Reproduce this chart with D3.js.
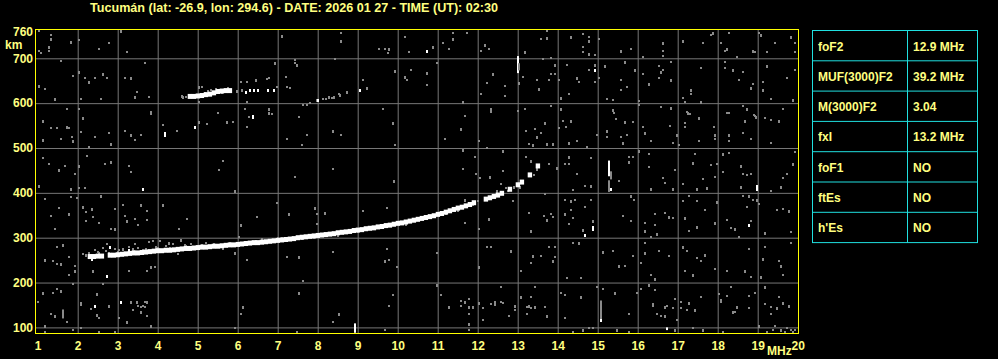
<!DOCTYPE html>
<html>
<head>
<meta charset="utf-8">
<script src="https://cdn.jsdelivr.net/npm/d3@7/dist/d3.min.js"></script>
<style>
body { margin: 0; background: #000; }
text { font-family: "Liberation Sans", Arial, sans-serif; font-weight: bold; }
</style>
</head>
<body>
<div id="chart"></div>
<script>
const title = "Tucumán (lat: -26.9, lon: 294.6) - DATE: 2026 01 27 - TIME (UT): 02:30";
const freqTicks = [1,2,3,4,5,6,7,8,9,10,11,12,13,14,15,16,17,18,19,20];
const kmTicks = [100,200,300,400,500,600,700,760];
const gridKm = [100,200,300,400,500,600,700];
const paramNames = ["foF2","MUF(3000)F2","M(3000)F2","fxI","foF1","ftEs","h'Es"];
const paramValues = ["12.9 MHz","39.2 MHz","3.04","13.2 MHz","NO","NO","NO"];

// F2 trace, [MHz, km]
const mainTrace = [[2.3,258],[2.4,258],[2.5,259],[2.6,259],[2.8,261],[2.9,261],[3.0,262],[3.1,263],[3.2,264],[3.3,265],[3.4,266],[3.5,266],[3.6,267],[3.7,268],[3.8,269],[3.9,270],[4.0,271],[4.1,271],[4.2,272],[4.3,272],[4.4,273],[4.5,274],[4.6,275],[4.7,276],[4.8,276],[4.9,277],[5.0,278],[5.1,279],[5.2,279],[5.3,280],[5.4,281],[5.5,281],[5.6,282],[5.7,283],[5.8,284],[5.9,284],[6.0,285],[6.1,286],[6.2,287],[6.3,288],[6.4,289],[6.5,289],[6.6,290],[6.7,291],[6.8,292],[6.9,293],[7.0,294],[7.1,295],[7.2,296],[7.3,297],[7.4,298],[7.5,300],[7.6,301],[7.7,302],[7.8,303],[7.9,304],[8.0,305],[8.1,306],[8.2,307],[8.3,308],[8.4,309],[8.5,311],[8.6,312],[8.7,313],[8.8,314],[8.9,316],[9.0,317],[9.1,318],[9.2,320],[9.3,321],[9.4,322],[9.5,324],[9.6,325],[9.7,327],[9.8,328],[9.9,330],[10.0,332],[10.1,333],[10.2,335],[10.3,337],[10.4,339],[10.5,341],[10.6,343],[10.7,345],[10.8,347],[10.9,349],[11.0,352],[11.1,354],[11.2,357],[11.3,360],[11.4,363],[11.5,366],[11.6,368],[11.7,371],[11.8,374],[11.9,378],[12.2,386],[12.3,389],[12.4,392],[12.5,395],[12.6,399],[12.8,408],[13.0,418],[13.1,424],[13.3,440],[13.5,460]];

// second echo, [MHz, km]
const secondTrace = [[4.8,615],[4.9,615],[5.0,616],[5.1,617],[5.2,619],[5.3,620],[5.4,623],[5.5,626],[5.6,627],[5.7,628],[5.8,628]];

const whiteDots = [[6.2,624],[6.3,630],[6.4,630],[6.5,630],[6.75,630],[6.9,630],[8.0,608],[9.05,630],[6.38,572],[4.18,533],[4.18,528],[4.93,547],[6.38,570],[3.63,408],[2.73,214],[2.43,148],[3.08,157],[2.81,280],[3.27,273],[10.73,717],[14.93,674],[15.33,408],[18.98,416],[18.98,408],[14.88,319],[14.88,323],[14.68,306],[18.78,328],[2.43,148],[3.08,156],[15.08,116],[2.35,252]];

const grayDots = [[1.13,561],[1.33,544],[1.48,544],[1.73,547],[1.78,544],[1.86,525],[1.88,516],[1.58,520],[2.08,535],[2.13,567],[2.44,525],[2.78,533],[2.84,509],[2.29,503],[3.18,538],[3.33,530],[3.43,518],[3.59,530],[3.83,579],[4.13,552],[4.49,538],[5.03,559],[5.23,553],[5.5,579],[5.73,557],[5.88,559],[6.23,547],[6.79,579],[6.86,575],[7.23,521],[1.13,518],
[1.13,477],[1.28,464],[1.53,451],[1.68,459],[1.94,442],[2.03,459],[2.23,483],[2.68,464],[2.83,468],[3.28,459],[3.33,446],[1.83,408],[2.03,411],[2.18,411],[1.03,416],[5.53,450],[5.63,472],[5.93,404],
[1.18,387],[1.53,367],[1.78,352],[1.83,390],[1.98,389],[2.13,368],[2.21,357],[2.21,337],[2.36,364],[2.39,346],[2.53,333],[2.59,394],[2.93,364],[2.83,319],[2.93,319],[3.13,372],[3.19,349],[3.23,337],[3.43,342],[3.51,328],[3.59,372],[3.73,359],[3.73,339],[4.13,372],[4.53,319],[4.73,342],[6.08,328],[6.48,346],[6.98,377],[7.28,353],[1.33,349],[1.43,319],
[1.18,251],[1.38,248],[1.48,241],[1.58,242],[1.78,257],[1.94,237],[1.94,226],[1.79,217],[2.13,263],[2.38,226],[3.28,225],[3.73,226],[3.84,235],[3.94,235],[6.23,251],[5.94,266],[7.23,257],[1.48,279],[1.63,283],
[2.29,266],[2.44,272],[2.54,265],[2.63,278],[2.73,287],[2.79,265],[2.93,274],[3.03,272],[3.14,274],[3.21,265],[3.29,279],[3.39,275],[3.43,285],[3.51,277],[3.63,272],[3.78,291],[3.88,293],[3.96,279],[4.06,293],[4.21,281],[4.29,288],[4.39,285],[4.5,263],[4.58,294],[4.69,283],[4.83,287],[4.88,279],[5.21,288],[5.46,279],[5.63,278],[5.88,287],[6.04,302],[6.46,293],[6.79,294],[7.11,300],
[2.2,262],[2.5,268],[2.7,270],[3.0,268],[3.4,270],[3.7,274],[4.0,277],[4.3,278],[4.7,282],[5.1,284],[5.4,286],[5.8,289],[6.2,291],[6.6,296],[7.0,299],
[1.13,177],[1.38,177],[1.48,185],[1.59,181],[1.88,197],[2.08,154],[2.48,174],[2.63,197],[2.78,148],[3.33,157],[3.51,148],[3.68,146],[3.73,157],
[7.53,570],[7.73,530],[8.38,538],[8.58,530],[7.6,507],[9.88,556],[9.93,507],[11.18,521],[11.58,543],[12.03,516],[12.23,501],[12.33,583],[13.0,583],[13.28,509],[13.38,507],[13.2,538],[13.43,543],[13.48,525],[13.57,534],[13.67,553],[11.63,496],[11.63,453],[11.93,481],[12.63,494],[12.63,448],[13.2,481],[13.33,472],[11.95,441],[12.05,432],[12.3,436],[7.43,436],[8.38,454],[9.9,427],[13.33,438],[13.48,457],[7.93,367],[7.98,352],[7.98,331],[8.18,355],[9.13,359],[9.73,367],[11.68,385],[11.68,333],[12.03,319],[12.28,342],[12.88,382],[13.28,355],[13.33,315],[13.65,349],[8.38,268],[7.53,257],[9.73,275],[9.78,250],[9.68,249],[9.98,235],[10.98,266],[12.03,234],[12.23,279],[12.33,279],[12.83,271],[13.08,226],[13.33,244],[13.38,260],[13.58,260],[7.63,204],[7.53,177],[9.88,173],[9.78,148],[10.98,195],[11.08,173],[11.58,159],[11.68,157],[11.78,164],[11.88,143],[12.03,154],[12.13,143],[12.33,153],[12.43,156],[12.58,191],[12.63,154],[13.08,167],[13.23,146],[13.33,168],[13.43,146],[13.43,191],
[11.88,374],[12.48,405],[12.58,420],[12.75,405],[13.05,413],[13.32,441],[13.4,439],[13.48,453],[7.6,296],[7.9,299],[8.5,306],[9.0,313],[9.6,321],[10.2,331],[10.7,342],[11.2,352],[11.5,361],[12.0,382],[12.7,410],[12.9,414],
[13.68,555],[14.13,561],[14.33,561],[14.03,544],[14.2,547],[14.28,512],[14.48,516],[14.73,503],[13.88,509],[15.4,577],[15.45,565],[15.67,558],[15.88,557],[15.73,530],[15.23,538],[15.23,524],[15.58,525],[15.63,512],[16.13,546],[16.33,516],[16.18,534],[16.8,550],[16.88,512],[16.98,530],[17.03,507],[17.18,556],[17.25,577],[17.3,576],[17.18,547],[17.53,567],[17.53,516],[17.9,547],[17.93,530],[17.93,521],[18.28,577],[18.28,530],[18.28,515],[18.63,534],[18.68,561],[18.83,521],[18.9,573],[18.95,570],[19.18,567],[19.33,562],[19.53,561],[19.33,512],[19.93,491],[13.72,510],[14.98,530],
[13.78,464],[13.97,456],[14.18,464],[14.28,464],[14.28,479],[14.48,442],[14.68,416],[14.83,416],[14.38,407],[14.83,478],[15.78,469],[15.78,481],[15.88,479],[16.03,493],[16.28,487],[16.28,457],[16.33,408],[16.63,432],[16.68,422],[16.88,408],[16.93,450],[17.13,420],[17.38,467],[17.43,487],[17.63,430],[17.73,411],[17.93,435],[17.98,464],[18.13,487],[18.13,447],[18.28,488],[18.58,459],[18.63,442],[18.73,439],[18.58,413],[18.83,442],[18.98,414],[19.58,413],[19.63,432],[19.73,442],[19.88,464],[15.53,427],[17.83,462],[17.48,408],
[13.68,398],[13.83,353],[13.73,339],[13.88,347],[14.18,385],[14.33,382],[14.43,385],[14.33,362],[14.18,352],[14.28,330],[14.38,345],[14.63,318],[14.83,385],[14.68,368],[14.88,337],[15.63,349],[15.83,337],[15.83,393],[15.9,385],[16.18,333],[16.18,315],[16.43,353],[16.43,328],[16.48,309],[16.33,302],[16.68,355],[16.78,346],[16.88,345],[17.13,382],[17.18,345],[17.28,393],[17.48,382],[17.48,324],[17.28,316],[17.68,362],[17.93,333],[18.23,339],[18.33,321],[18.43,319],[18.53,302],[18.63,393],[18.78,393],[18.73,368],[18.88,385],[18.98,383],[19.03,376],[18.83,337],[19.18,311],[19.48,362],[19.63,364],[19.78,359],[19.83,312],[19.33,404],[17.98,380],
[13.78,279],[13.93,279],[13.88,247],[13.93,257],[14.38,289],[14.53,289],[14.23,211],[14.58,211],[15.13,269],[15.38,271],[15.68,237],[15.53,237],[15.88,259],[16.08,244],[16.18,265],[16.18,288],[16.33,217],[16.43,208],[16.53,271],[16.78,260],[17.13,279],[17.23,271],[17.18,226],[17.38,217],[17.48,254],[17.58,248],[17.68,262],[17.93,231],[18.23,226],[18.68,226],[18.78,275],[18.83,213],[19.13,253],[19.18,279],[19.53,248],[19.58,237],[19.63,217],[19.83,288],[19.07,213],
[14.08,177],[14.18,173],[14.58,168],[14.98,191],[15.13,186],[15.43,177],[15.97,177],[16.08,186],[16.28,195],[16.43,183],[16.38,148],[16.68,146],[16.93,164],[17.08,157],[17.28,155],[17.58,168],[18.02,174],[18.08,161],[18.23,171],[18.33,191],[18.48,145],[18.78,170],[18.93,177],[19.18,191],[19.33,145],[19.53,168],[19.63,154],
[1.03,761],[1.33,753],[1.33,742],[1.03,717],[1.08,711],[1.28,726],[1.28,717],[1.58,693],[1.83,737],[2.03,741],[2.08,610],[2.03,670],[1.88,661],[2.19,655],[2.28,647],[2.43,656],[2.53,720],[2.63,664],[2.73,655],[2.78,733],[3.08,761],[3.23,713],[3.18,656],[3.33,656],[3.68,689],[3.48,625],[3.43,613],[3.78,614],[3.83,581],[1.43,610],[1.73,588],[2.03,588],[1.03,639],[1.18,631],[2.58,610],[5.03,637],[5.11,637],[5.03,603],[4.63,614],[6.09,647],[6.23,648],[6.46,652],[6.73,653],[6.78,655],[6.93,689],[7.21,659],[7.31,634],[7.11,750],[7.43,696],[7.43,689],[7.48,685],[8.43,698],[8.58,757],[8.58,739],[8.73,625],[9.13,652],[9.23,633],[9.53,720],[9.68,720],[9.78,720],[9.76,711],[9.63,588],[9.93,671],[7.63,596],[8.13,610],[8.28,613],[8.53,621],[6.18,588],[6.78,588],[6.28,570],[6.23,603],
[4.6,615],[5.19,622],[5.34,630],[5.48,626],[5.64,630],[5.81,624],[5.98,628],[6.98,636],[7.23,636],[9.06,630],[4.7,613],[5.25,628],[5.45,632],[5.6,622],[5.75,633],[6.1,630],
[7.73,596],[7.81,601],[7.98,606],[8.14,610],[8.35,612],[8.56,618],[8.73,622],[8.2,610],[8.4,614],
[10.18,748],[10.28,713],[10.88,726],[11.13,733],[11.38,757],[11.38,744],[11.73,757],[11.28,721],[12.18,730],[12.08,717],[12.28,721],[13.18,713],[13.58,744],[13.73,761],[13.73,745],[13.63,699],[13.83,700],[14.33,748],[14.63,755],[14.78,748],[14.78,739],[14.63,726],[14.63,713],[14.78,710],[14.93,707],[15.03,744],[15.58,717],[15.83,721],[16.13,704],[16.63,735],[16.63,717],[16.63,705],[17.13,739],[17.63,735],[17.83,753],[17.88,757],[18.08,735],[18.18,717],[18.23,721],[18.28,757],[18.48,704],[18.88,717],[18.93,713],[19.03,757],[19.08,753],[19.23,713],[19.43,735],[19.83,748],[19.93,713],[19.93,735],
[10.18,659],[10.23,652],[10.34,674],[10.73,667],[10.73,640],[10.98,689],[11.63,603],[12.08,621],[12.23,645],[12.38,665],[12.68,639],[12.68,616],[13.03,645],[13.13,659],[13.48,652],[13.53,631],[13.78,652],[13.83,665],[13.93,686],[13.93,665],[14.03,652],[14.08,612],[14.23,684],[14.28,621],[14.48,656],[14.53,647],[14.78,673],[14.93,686],[14.93,647],[15.03,655],[15.18,683],[15.23,610],[15.38,608],[15.38,585],[15.58,652],[15.58,630],[15.68,692],[15.73,637],[15.83,720],[15.93,674],[16.03,605],[16.13,665],[16.28,643],[16.53,683],[16.53,656],[16.58,670],[16.63,674],[16.83,692],[16.83,652],[17.13,612],[17.18,603],[17.33,630],[17.33,621],[17.58,679],[17.58,603],[18.18,692],[18.18,679],[18.38,674],[18.53,652],[18.63,670],[18.83,634],[18.88,643],[19.13,647],[19.23,682],[19.73,656],[19.93,674],[19.13,630],[18.63,594],[19.33,610],[19.88,608],[19.63,587],[18.93,572],[18.73,588],[18.23,578],[17.23,581],[16.83,590],[16.58,592],[16.03,595],[14.08,587],[13.83,594],[13.18,587],[12.33,587],[11.68,572],
[1.0,157],[1.19,103],[1.19,90],[1.33,130],[1.43,125],[1.73,112],[1.88,94],[2.08,153],[2.08,98],[2.33,140],[2.48,127],[2.53,121],[2.53,90],[2.78,148],[2.93,90],[3.03,122],[3.23,112],[3.33,156],[3.38,139],[3.48,156],[3.58,145],[3.63,148],[3.58,134],[3.68,156],[3.73,125],[3.83,103],[5.93,99],[6.08,130],[6.13,145],[7.48,90],[8.38,112],[8.53,130],[9.68,94],[9.78,148],
[11.28,145],[11.58,148],[11.68,156],[11.78,145],[11.88,145],[11.78,130],[11.78,107],[11.78,94],[12.13,116],[12.43,152],[12.58,156],[12.78,125],[12.93,148],[12.93,139],[13.23,130],[13.28,148],[13.33,143],[13.68,145],[13.73,125],[14.18,121],[14.38,90],[14.63,94],[14.78,99],[14.88,99],[15.48,94],[15.78,130],[15.78,90],[16.38,152],[16.48,130],[16.58,125],[16.68,125],[16.73,148],[16.88,143],[16.93,94],[17.08,143],[17.23,139],[17.43,139],[16.98,116],[17.38,99],[17.63,94],[18.08,156],[18.13,90],[18.38,134],[18.43,134],[18.78,143],[19.03,103],[19.18,152],[19.33,130],[19.48,143],[19.38,94],[19.43,103],[19.58,94],[19.73,99],[19.83,94],[19.78,148],[19.88,90],[19.23,90],[19.68,90],[19.93,94]];

// vertical streaks: [MHz, km low, km high, white?]
const bars = [[1.63,120,140,0],[8.93,88,109,1],[13.0,667,705,1],[13.04,673,689,0],[15.28,437,472,1],[15.33,430,448,0],[15.28,402,428,0],[15.08,118,160,0],[16.73,94,100,1]];

const width = 998;
const height = 359;

const svg = d3.select('#chart')
        .append('svg')
            .attr('width', width)
            .attr('height', height)
            .style('background', '#000')

const xScale = d3.scaleLinear()
.domain([1, 20])
.range([37.7, 797.7]);

const yScale = d3.scaleLinear()
.domain([100, 700])
.range([327.4, 58.3]);

const yellow = '#ffff80';
const frameTop = 29.5, frameBottom = 333.5, frameLeft = 35.5, frameRight = 798.5;

svg.append('text')
.attr('x', 294)
.attr('y', 12)
.attr('text-anchor', 'middle')
.attr('fill', yellow)
.attr('font-size', 12)
.attr('textLength', 408)
.attr('lengthAdjust', 'spacingAndGlyphs')
.text(title)

// grid
svg.append('g')
.attr('transform', 'translate(0,' + frameBottom + ')')
.call(d3.axisBottom(xScale)
    .tickValues(freqTicks.slice(1, -1))
    .tickSize(-(frameBottom - frameTop))
    .tickFormat(''))
.call(g => g.select('.domain').remove())
.selectAll('line').attr('stroke', '#777')

svg.append('g')
.attr('transform', 'translate(' + frameLeft + ',0)')
.call(d3.axisRight(yScale)
    .tickValues(gridKm)
    .tickSize(frameRight - frameLeft)
    .tickFormat(''))
.call(g => g.select('.domain').remove())
.selectAll('line').attr('stroke', '#777')

// noise
svg.append('g').selectAll('rect')
.data(grayDots)
.enter()
.append('rect')
    .attr('x', d => Math.round(xScale(d[0])) - 1)
    .attr('y', d => Math.round(yScale(d[1])) - 1)
    .attr('width', 2)
    .attr('height', (d, i) => i % 3 ? 2 : 3)
    .attr('fill', '#8a8a8a')

svg.append('g').selectAll('rect')
.data(bars)
.enter()
.append('rect')
    .attr('x', d => Math.round(xScale(d[0])) - 1)
    .attr('y', d => yScale(d[2]))
    .attr('width', 2)
    .attr('height', d => yScale(d[1]) - yScale(d[2]))
    .attr('fill', d => d[3] ? '#fff' : '#8a8a8a')

// traces
const step = xScale(1.1) - xScale(1);
svg.append('g').selectAll('rect')
.data(mainTrace.concat(secondTrace))
.enter()
.append('rect')
    .attr('x', d => xScale(d[0]) - step / 2)
    .attr('y', d => yScale(d[1]) - 2.5)
    .attr('width', step + 0.4)
    .attr('height', 5)
    .attr('fill', '#fff')

svg.append('g').selectAll('rect')
.data(whiteDots)
.enter()
.append('rect')
    .attr('x', d => Math.round(xScale(d[0])) - 1)
    .attr('y', d => Math.round(yScale(d[1])) - 1)
    .attr('width', 2)
    .attr('height', 3)
    .attr('fill', '#fff')

// frame
svg.append('rect')
.attr('x', frameLeft)
.attr('y', frameTop)
.attr('width', frameRight - frameLeft)
.attr('height', frameBottom - frameTop)
.attr('fill', 'none')
.attr('stroke', '#ffff00')
.attr('stroke-width', 1)

// axis labels
svg.append('g')
.attr('transform', 'translate(0,' + frameBottom + ')')
.call(d3.axisBottom(xScale).tickValues(freqTicks).tickSize(0).tickPadding(8))
.call(g => g.select('.domain').remove())
.selectAll('text')
    .attr('fill', yellow)
    .attr('font-size', 12)
    .attr('font-family', '"Liberation Sans", Arial, sans-serif')

svg.append('g')
.attr('transform', 'translate(33,0)')
.call(d3.axisLeft(yScale).tickValues(kmTicks).tickSize(0).tickPadding(0))
.call(g => g.select('.domain').remove())
.selectAll('text')
    .attr('fill', yellow)
    .attr('font-size', 12)
    .attr('font-family', '"Liberation Sans", Arial, sans-serif')

svg.append('text')
.attr('x', 5)
.attr('y', 48.5)
.attr('fill', yellow)
.attr('font-size', 12)
.text('km')

svg.append('text')
.attr('x', 767)
.attr('y', 355)
.attr('fill', yellow)
.attr('font-size', 12)
.text('MHz')

// parameter table
const tx0 = 812.5, tx1 = 907.5, tx2 = 977.5, ty0 = 30.5, rowH = 30.3;
const table = svg.append('g');
table.append('rect')
.attr('x', tx0).attr('y', ty0)
.attr('width', tx2 - tx0).attr('height', rowH * paramNames.length)
.attr('fill', 'none').attr('stroke', '#20e0e0')
table.append('line')
.attr('x1', tx1).attr('x2', tx1)
.attr('y1', ty0).attr('y2', ty0 + rowH * paramNames.length)
.attr('stroke', '#20e0e0')
table.selectAll('.row')
.data(paramNames.slice(1))
.enter()
.append('line')
    .attr('x1', tx0).attr('x2', tx2)
    .attr('y1', (d, i) => ty0 + rowH * (i + 1))
    .attr('y2', (d, i) => ty0 + rowH * (i + 1))
    .attr('stroke', '#20e0e0')
table.selectAll('.name')
.data(paramNames)
.enter()
.append('text')
    .attr('x', 818)
    .attr('y', (d, i) => ty0 + rowH * i + 20)
    .attr('fill', yellow)
    .attr('font-size', 12)
    .text(d => d)
table.selectAll('.val')
.data(paramValues)
.enter()
.append('text')
    .attr('x', 913)
    .attr('y', (d, i) => ty0 + rowH * i + 20)
    .attr('fill', yellow)
    .attr('font-size', 12)
    .text(d => d)
</script>
</body>
</html>
